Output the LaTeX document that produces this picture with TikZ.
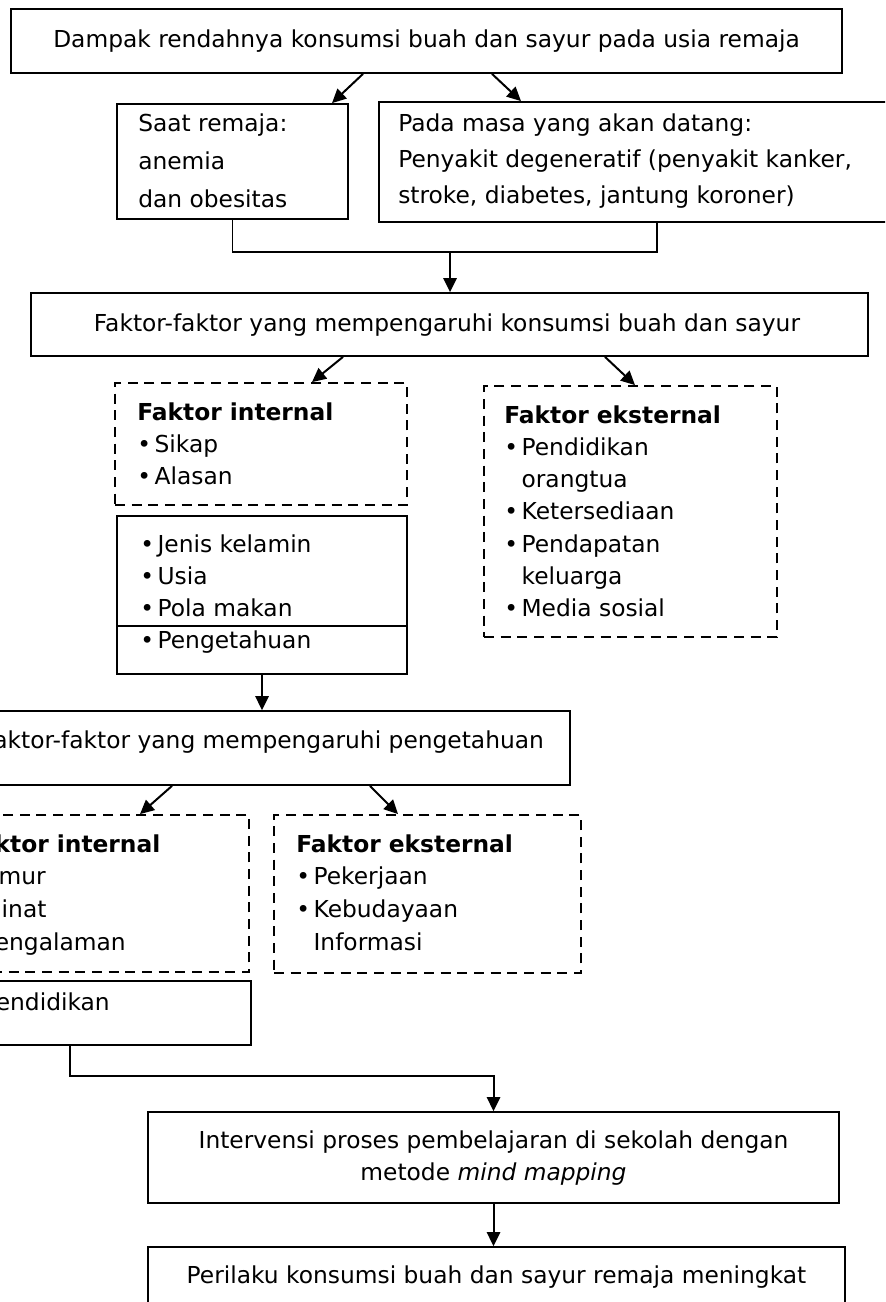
\documentclass[tikz,border=0pt]{standalone}
\usepackage{fontspec}
\setmainfont{DejaVu Sans}
\usetikzlibrary{arrows.meta,fit,calc}

\newcommand{\itm}{\makebox[13pt][l]{•}}
\newcommand{\noitm}{\hspace*{13pt}}

\tikzset{
  box/.style={draw, line width=1.35pt, inner sep=0pt},
  dbox/.style={box, dash pattern=on 7.5pt off 5pt},
  txt/.style={anchor=base west, inner sep=0pt, font=\fontsize{17.5}{20}\selectfont},
  ctxt/.style={txt, anchor=base},
  arr/.style={line width=1.5pt, -{Triangle[length=10.5pt,width=10pt]}},
  link/.style={line width=1.2pt}
}

\begin{document}
\begin{tikzpicture}[x=0.75pt, y=-0.75pt]

\useasboundingbox (0,0) rectangle (885,1302);
\clip (0,0) rectangle (885,1302);

% Dampak
\node[box, fit={(11,9) (842,73)}] (dampak) {};
\node[ctxt] (dampak-t) at (426.5,48) {Dampak rendahnya konsumsi buah dan sayur pada usia remaja};

\node[box, fit={(117,104) (348,219)}] (saat) {};
\foreach \t [count=\i from 0] in {Saat remaja:, anemia, dan obesitas}
  \node[txt] (saat-t\i) at (138,132+37.5*\i) {\t};

\node[box, fit={(379,102) (935,222)}] (pada) {};
\foreach \t [count=\i from 0] in {Pada masa yang akan datang:, {Penyakit degeneratif (penyakit kanker,}, {stroke, diabetes, jantung koroner)}}
  \node[txt] (pada-t\i) at (398,132+36*\i) {\t};

\draw[arr] ($(dampak.south)+(-63.5,0)$) -- ($(saat.north)+(99.5,0)$);
\draw[arr] ($(dampak.south)+(65.5,0)$) -- ($(pada.north)+(-136,0)$);

% Faktor konsumsi
\node[box, fit={(31,293) (868,356)}] (faktor1) {};
\node[ctxt] (faktor1-t) at (447,331) {Faktor-faktor yang mempengaruhi konsumsi buah dan sayur};

\coordinate (join) at (450,252);
\draw[link] (saat.south) -- (saat.south |- join) -- (pada.south |- join) -- (pada.south);
\draw[arr] (join) -- (join |- faktor1.north);

% Internal / eksternal (1)
\node[dbox, fit={(115,383) (407,505)}] (intern1) {};
\foreach \t [count=\i from 0] in {\textbf{Faktor internal}, \itm Sikap, \itm Alasan}
  \node[txt] (intern1-t\i) at (137,420+32.3*\i) {\t};

\node[dbox, fit={(484,386) (777,637)}] (extern1) {};
\foreach \t [count=\i from 0] in {\textbf{Faktor eksternal}, \itm Pendidikan, \noitm orangtua, \itm Ketersediaan, \itm Pendapatan, \noitm keluarga, \itm Media sosial}
  \node[txt] (extern1-t\i) at (504,423+32.3*\i) {\t};

\draw[arr] ($(faktor1.south)+(-106.5,0)$) -- ($(intern1.north)+(51,0)$);
\draw[arr] ($(faktor1.south)+(155.5,0)$) -- ($(extern1.north)+(4.5,0)$);

\node[box, fit={(117,516) (407,674)}] (ciri) {};
\draw[link] ($(ciri.south west)+(0,-49)$) -- ($(ciri.south east)+(0,-49)$);
\foreach \t [count=\i from 0] in {\itm Jenis kelamin, \itm Usia, \itm Pola makan, \itm Pengetahuan}
  \node[txt] (ciri-t\i) at (140,552+32*\i) {\t};

% Faktor pengetahuan
\node[box, fit={(-44,711) (570,785)}] (peng) {};
\node[ctxt] (peng-t) at (263,748) {Faktor-faktor yang mempengaruhi pengetahuan};
\draw[arr] (ciri.south) -- (ciri.south |- peng.north);

% Internal / eksternal (2)
\node[dbox, fit={(-58,815) (249,972)}] (intern2) {};
\foreach \t [count=\i from 0] in {\textbf{Faktor internal}, \itm Umur, \itm Minat, \itm Pengalaman}
  \node[txt] (intern2-t\i) at (-36,852+32.7*\i) {\t};

\node[dbox, fit={(274,815) (581,973)}] (extern2) {};
\foreach \t [count=\i from 0] in {\textbf{Faktor eksternal}, \itm Pekerjaan, \itm Kebudayaan, \noitm Informasi}
  \node[txt] (extern2-t\i) at (296,852+32.7*\i) {\t};

\draw[arr] ($(peng.south)+(-91,0)$) -- ($(intern2.north)+(44.5,0)$);
\draw[arr] ($(peng.south)+(107,0)$) -- ($(extern2.north)+(-29.5,0)$);

\node[box, fit={(-58,981) (251,1045)}] (pend) {};
\node[txt] (pend-t) at (-35,1010) {\itm Pendidikan};

% Intervensi
\node[box, fit={(148,1112) (839,1203)}] (interv) {};
\node[ctxt] (interv-t0) at (493.5,1148) {Intervensi proses pembelajaran di sekolah dengan};
\node[ctxt] (interv-t1) at (493.5,1180) {metode \textit{mind mapping}};
\draw[arr] ($(pend.south west)+(129,0)$) -- ++(0,30) -| (interv.north);

% Perilaku
\node[box, fit={(148,1247) (845,1330)}] (perilaku) {};
\node[ctxt] (perilaku-t) at (496.5,1283) {Perilaku konsumsi buah dan sayur remaja meningkat};
\draw[arr] (interv.south) -- (interv.south |- perilaku.north);

\end{tikzpicture}
\end{document}
